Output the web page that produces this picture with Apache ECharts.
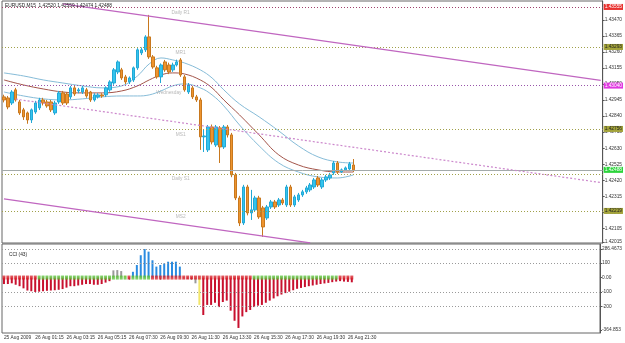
<!DOCTYPE html>
<html>
<head>
<meta charset="utf-8">
<script src="https://cdn.jsdelivr.net/npm/echarts@6/dist/echarts.min.js"></script>
<style>
html, body { margin: 0; padding: 0; background: #fff; }
#main { width: 625px; height: 343px; }
</style>
</head>
<body>
<div id="main"></div>
<script>
// EURUSD M15, one time label every 8 bars
var timeLabels = ['25 Aug 2009', '26 Aug 01:15', '26 Aug 03:15', '26 Aug 05:15', '26 Aug 07:30', '26 Aug 09:30',
  '26 Aug 11:30', '26 Aug 13:30', '26 Aug 15:30', '26 Aug 17:30', '26 Aug 19:30', '26 Aug 21:30'];

var opens = [1.42966, 1.42959, 1.42926, 1.43012, 1.42933, 1.42881, 1.42861, 1.42815, 1.42867, 1.42894,
  1.42946, 1.42933, 1.42933, 1.42861, 1.42933, 1.42992, 1.42985, 1.42966, 1.43025, 1.43005,
  1.42998, 1.43012, 1.42998, 1.42946, 1.42966, 1.42979, 1.42979, 1.43012, 1.43057, 1.43129,
  1.43143, 1.43097, 1.43064, 1.43077, 1.43156, 1.43254, 1.43274, 1.43359, 1.43228, 1.43156,
  1.43097, 1.43195, 1.43175, 1.43143, 1.43175, 1.43208, 1.43097, 1.42998, 1.43025, 1.42966,
  1.42946, 1.42704, 1.42619, 1.42769, 1.42651, 1.42763, 1.42638, 1.42769, 1.42717, 1.42455,
  1.42304, 1.42140, 1.42376, 1.42206, 1.42226, 1.42304, 1.42239, 1.42173, 1.42245, 1.42278,
  1.42258, 1.42291, 1.42258, 1.42376, 1.42258, 1.42291, 1.42324, 1.42344, 1.42357, 1.42376,
  1.42435, 1.42376, 1.42422, 1.42435, 1.42468, 1.42533, 1.42474, 1.42488, 1.42494, 1.42520];
var closes = [1.42946, 1.42900, 1.42998, 1.42946, 1.42861, 1.42835, 1.42815, 1.42881, 1.42926, 1.42946,
  1.42926, 1.42907, 1.42881, 1.42926, 1.42992, 1.42926, 1.42926, 1.43025, 1.42985, 1.43012,
  1.43025, 1.42972, 1.42946, 1.42979, 1.42979, 1.42972, 1.43025, 1.43064, 1.43143, 1.43195,
  1.43090, 1.43064, 1.43090, 1.43156, 1.43274, 1.43274, 1.43359, 1.43228, 1.43162, 1.43097,
  1.43175, 1.43143, 1.43129, 1.43175, 1.43195, 1.43110, 1.43012, 1.43044, 1.42966, 1.42946,
  1.42704, 1.42710, 1.42769, 1.42671, 1.42769, 1.42638, 1.42769, 1.42717, 1.42455, 1.42304,
  1.42140, 1.42376, 1.42206, 1.42226, 1.42304, 1.42180, 1.42114, 1.42245, 1.42278, 1.42245,
  1.42291, 1.42271, 1.42376, 1.42258, 1.42311, 1.42324, 1.42344, 1.42370, 1.42389, 1.42422,
  1.42389, 1.42422, 1.42442, 1.42455, 1.42533, 1.42474, 1.42488, 1.42501, 1.42527, 1.42488];
var lows = [1.42930, 1.42885, 1.42913, 1.42935, 1.42848, 1.42815, 1.42790, 1.42795, 1.42855, 1.42880,
  1.42910, 1.42895, 1.42867, 1.42848, 1.42920, 1.42913, 1.42913, 1.42952, 1.42972, 1.42990,
  1.42985, 1.42960, 1.42933, 1.42935, 1.42955, 1.42960, 1.42966, 1.43000, 1.43045, 1.43115,
  1.43077, 1.43050, 1.43050, 1.43064, 1.43143, 1.43240, 1.43260, 1.43215, 1.43150, 1.43085,
  1.43057, 1.43130, 1.43115, 1.43130, 1.43165, 1.43097, 1.43000, 1.42985, 1.42952, 1.42933,
  1.42619, 1.42605, 1.42605, 1.42655, 1.42638, 1.42533, 1.42625, 1.42700, 1.42440, 1.42290,
  1.42120, 1.42127, 1.42190, 1.42160, 1.42213, 1.42167, 1.42049, 1.42160, 1.42232, 1.42232,
  1.42245, 1.42258, 1.42245, 1.42245, 1.42245, 1.42278, 1.42311, 1.42331, 1.42344, 1.42363,
  1.42376, 1.42363, 1.42409, 1.42422, 1.42455, 1.42461, 1.42468, 1.42481, 1.42481, 1.42474];
var highs = [1.42980, 1.42972, 1.43010, 1.43025, 1.42946, 1.42894, 1.42870, 1.42890, 1.42940, 1.42960,
  1.42960, 1.42946, 1.42946, 1.42940, 1.43005, 1.43005, 1.42998, 1.43038, 1.43038, 1.43025,
  1.43038, 1.43025, 1.43005, 1.42990, 1.42990, 1.42990, 1.43035, 1.43075, 1.43155, 1.43205,
  1.43156, 1.43110, 1.43100, 1.43165, 1.43285, 1.43290, 1.43370, 1.43503, 1.43240, 1.43170,
  1.43185, 1.43208, 1.43190, 1.43190, 1.43210, 1.43220, 1.43110, 1.43057, 1.43038, 1.42979,
  1.42960, 1.42750, 1.42782, 1.42785, 1.42782, 1.42775, 1.42782, 1.42782, 1.42730, 1.42468,
  1.42318, 1.42390, 1.42390, 1.42357, 1.42318, 1.42318, 1.42252, 1.42258, 1.42291, 1.42291,
  1.42304, 1.42304, 1.42390, 1.42390, 1.42324, 1.42337, 1.42357, 1.42383, 1.42402, 1.42435,
  1.42448, 1.42435, 1.42455, 1.42468, 1.42546, 1.42546, 1.42497, 1.42510, 1.42540, 1.42559];

// moving average with envelope, read at these bars
var maBars = [0, 5, 10, 15, 20, 25, 30, 34, 37, 40, 43, 46, 50, 53, 56, 60, 65, 70, 75, 80, 85, 89];
var maUpper = [1.43123, 1.43103, 1.43077, 1.43057, 1.43038, 1.43025, 1.43038, 1.43103, 1.43182, 1.43221, 1.43208,
  1.43188, 1.43143, 1.43090, 1.43012, 1.42920, 1.42835, 1.42743, 1.42645, 1.42573, 1.42540, 1.42533];
var maMid = [1.43077, 1.43044, 1.43018, 1.42998, 1.42992, 1.42992, 1.43005, 1.43038, 1.43077, 1.43110, 1.43123,
  1.43116, 1.43077, 1.43025, 1.42946, 1.42848, 1.42717, 1.42586, 1.42520, 1.42488, 1.42474, 1.42474];
var maLower = [1.42998, 1.42972, 1.42953, 1.42946, 1.42953, 1.42966, 1.42972, 1.42972, 1.42979, 1.43005, 1.43038,
  1.43051, 1.43025, 1.42979, 1.42907, 1.42782, 1.42645, 1.42533, 1.42474, 1.42442, 1.42435, 1.42455];

// pivot levels
var levelNames = ['Daily R1', 'MR1', 'Wednesday', 'MS1', 'Daily S1', 'MS2'];
var levelPrices = [1.43555, 1.43293, 1.43040, 1.42756, 1.42461, 1.42219];

// channel lines [bar, price]
var chanUpper = [[15, 1.43575], [152, 1.43074]];
var chanMid = [[3, 1.42951], [152, 1.42405]];
var chanLower = [[0, 1.42298], [78, 1.42010]];

var priceTicks = [1.42015, 1.42105, 1.42210, 1.42315, 1.42420, 1.42525, 1.42630, 1.42735, 1.42840,
  1.42945, 1.43050, 1.43155, 1.43260, 1.43365, 1.43470];

// CCI histogram
var cci = [-45, -45, -40, -50, -60, -75, -90, -95, -100, -98, -95, -92, -90, -88, -85, -80, -70, -60, -60, -55,
  -50, -45, -45, -50, -50, -45, -35, -25, 50, 52, 45, 12, -8, 40, 87, 155, 198, 180, 120, 76,
  87, 98, 110, 110, 110, 76, -5, -8, -10, -40, -190, -260, -190, -190, -175, -205, -170, -160, -230, -300,
  -350, -270, -240, -225, -205, -195, -190, -175, -160, -145, -130, -118, -108, -98, -88, -78, -72, -66, -60, -55,
  -50, -45, -41, -37, -32, -28, -25, -28, -30, -33];
// d = falling red, g = grey, y = yellow, b = blue
var cciKind = 'ddddddddddddddddddddddddddddgggydbbbbbbbbbbbbbdddgyddddddddddddddddddddddddddddddddddddddd'.split('');
// trend strip on the zero line: 1 green, 0 red
var cciStrip = '000000000111111111111111111111110111110000000000000000000000000011111111111111111111110000'.split('');
var cciTicks = [-364.853, -200, -100, 0, 100, 200];
var cciTickText = ['-364.853', '-200', '-100', '0.00', '100', '286.4673'];
var cciLevels = [200, 100, -100, -200];

var slots = [];
for (var i = 0; i < 153; i++) slots.push(String(i));

var kindColor = { d: '#c8102e', g: '#9a9a9a', y: '#f2e66a', b: '#2a8be0' };
var font = 'Liberation Sans';
var fs = 4.8;

var myChart = echarts.init(document.getElementById('main'));

var candles = opens.map(function (o, k) { return [o, closes[k], lows[k], highs[k]]; });
function pairs(vals) { return maBars.map(function (b, k) { return [b, vals[k]]; }); }

var levelStyle = [
  { c: '#a0406a', box: '#e8322f', txt: '#fff' },
  { c: '#a0a04a', box: '#a3a33a', txt: '#222' },
  { c: '#9955aa', box: '#e038e0', txt: '#fff' },
  { c: '#a0a04a', box: '#a3a33a', txt: '#222' },
  { c: '#a0a04a', box: null },
  { c: '#a0a04a', box: '#a3a33a', txt: '#222' }
];
var lineMarks = levelPrices.map(function (p, k) {
  var s = levelStyle[k];
  return {
    yAxis: p,
    lineStyle: { color: s.c, type: [1, 2], width: 1 },
    label: s.box ? {
      show: true, position: 'end', distance: 1, formatter: p.toFixed(5),
      backgroundColor: s.box, color: s.txt, fontSize: fs, fontFamily: font, padding: [1, 1, 0, 1]
    } : { show: false }
  };
});
var last = closes[closes.length - 1];
lineMarks.push({
  yAxis: last,
  lineStyle: { color: '#a3aaaa', type: 'solid', width: 1 },
  label: { show: true, position: 'end', distance: 1, formatter: last.toFixed(5),
    backgroundColor: '#2bd43b', color: '#fff', fontSize: fs, fontFamily: font, padding: [1, 1, 0, 1] }
});
function seg(p, color, type) {
  return [{ coord: [String(p[0][0]), p[0][1]], lineStyle: { color: color, type: type, width: 1.2 }, label: { show: false } },
    { coord: [String(p[1][0]), p[1][1]] }];
}
lineMarks.push(seg(chanUpper, '#c066c0', 'solid'));
lineMarks.push(seg(chanLower, '#c066c0', 'solid'));
lineMarks.push(seg(chanMid, '#cc88cc', [2, 2]));

var option = {
  animation: false,
  backgroundColor: '#fff',
  title: [
    { text: 'EURUSD,M15  ' + [opens[89], highs[89], lows[89], closes[89]].map(function (v) { return v.toFixed(5); }).join(' '),
      left: 4, top: 3, padding: [0, 1],
      textStyle: { fontSize: fs, fontWeight: 'normal', color: '#222', fontFamily: font } },
    { text: 'CCI (43)', left: 4, top: 247, textStyle: { fontSize: fs, fontWeight: 'normal', color: '#222', fontFamily: font } }
  ],
  grid: [
    { left: 2, right: 20, top: 1, height: 242, show: true, borderColor: '#666', borderWidth: 1 },
    { left: 2, right: 20, top: 244, height: 89, show: true, borderColor: '#666', borderWidth: 1 }
  ],
  xAxis: [
    { type: 'category', gridIndex: 0, data: slots, boundaryGap: true,
      axisLine: { show: false }, axisTick: { show: false }, axisLabel: { show: false }, splitLine: { show: false } },
    { type: 'category', gridIndex: 1, data: slots, boundaryGap: true,
      axisLine: { show: false },
      axisTick: { show: true, alignWithLabel: true, length: 2, lineStyle: { color: '#555' },
        interval: function (i) { return i % 8 === 0 && i / 8 < timeLabels.length; } },
      axisLabel: { show: true, align: 'left', margin: 2, fontSize: fs, fontFamily: font, color: '#333',
        interval: function (i) { return i % 8 === 0 && i / 8 < timeLabels.length; },
        formatter: function (v, i) { return timeLabels[i / 8] || ''; } },
      splitLine: { show: false } }
  ],
  yAxis: [
    { type: 'value', gridIndex: 0, position: 'right', min: 1.42009, max: 1.43594, scale: true,
      axisLine: { show: true, lineStyle: { color: '#555' } },
      axisTick: { show: true, length: 2, customValues: priceTicks, lineStyle: { color: '#555' } },
      axisLabel: { show: true, margin: 2, fontSize: fs, fontFamily: font, color: '#333',
        customValues: priceTicks, formatter: function (v) { return v.toFixed(5); } },
      splitLine: { show: false } },
    { type: 'value', gridIndex: 1, position: 'right', min: -385, max: 233,
      axisLine: { show: true, lineStyle: { color: '#555' } },
      axisTick: { show: true, length: 2, customValues: cciTicks, lineStyle: { color: '#555' } },
      axisLabel: { show: true, margin: 2, fontSize: fs, fontFamily: font, color: '#333',
        customValues: cciTicks,
        formatter: function (v) { return cciTickText[cciTicks.indexOf(v)]; } },
      splitLine: { show: false } }
  ],
  series: [
    { type: 'line', xAxisIndex: 0, yAxisIndex: 0, data: pairs(maUpper), smooth: 0.4, showSymbol: false,
      lineStyle: { color: '#86bcd8', width: 1 }, z: 1 },
    { type: 'line', xAxisIndex: 0, yAxisIndex: 0, data: pairs(maLower), smooth: 0.4, showSymbol: false,
      lineStyle: { color: '#86bcd8', width: 1 }, z: 1 },
    { type: 'line', xAxisIndex: 0, yAxisIndex: 0, data: pairs(maMid), smooth: 0.4, showSymbol: false,
      lineStyle: { color: '#a4554a', width: 1 }, z: 1,
      markLine: { symbol: ['none', 'none'], silent: true, animation: false, precision: 5, data: lineMarks } },
    { type: 'candlestick', xAxisIndex: 0, yAxisIndex: 0, data: candles, barWidth: 3,
      itemStyle: { color: '#33c4ee', color0: '#ee942e', borderColor: '#22a8d6', borderColor0: '#c8781e', borderWidth: 1 },
      z: 3 },
    { type: 'scatter', xAxisIndex: 0, yAxisIndex: 0, symbolSize: 0, silent: true, z: 2,
      data: [
        { value: [45, 1.43515], name: levelNames[0] },
        { value: [45, 1.43258], name: levelNames[1] },
        { value: [42, 1.42995], name: levelNames[2] },
        { value: [45, 1.42716], name: levelNames[3] },
        { value: [45, 1.42428], name: levelNames[4] },
        { value: [45, 1.42182], name: levelNames[5] }
      ],
      label: { show: true, position: 'inside', formatter: '{b}', color: '#a8a8a8', fontSize: fs, fontFamily: font } },
    { type: 'bar', xAxisIndex: 1, yAxisIndex: 1, barWidth: 2,
      data: cci.map(function (v, k) { return { value: v, itemStyle: { color: kindColor[cciKind[k]] } }; }),
      markLine: { symbol: ['none', 'none'], silent: true, label: { show: false },
        lineStyle: { color: '#9a9a9a', type: [1, 2], width: 1 },
        data: cciLevels.map(function (v) { return { yAxis: v }; }) } },
    { type: 'scatter', xAxisIndex: 1, yAxisIndex: 1, symbol: 'rect', symbolSize: [3, 4], silent: true,
      data: cciStrip.map(function (s, k) { return { value: [k, 0], itemStyle: { color: s === '1' ? '#5cc23c' : '#d8262e' } }; }),
      z: 4 }
  ]
};
myChart.setOption(option);
</script>
</body>
</html>
